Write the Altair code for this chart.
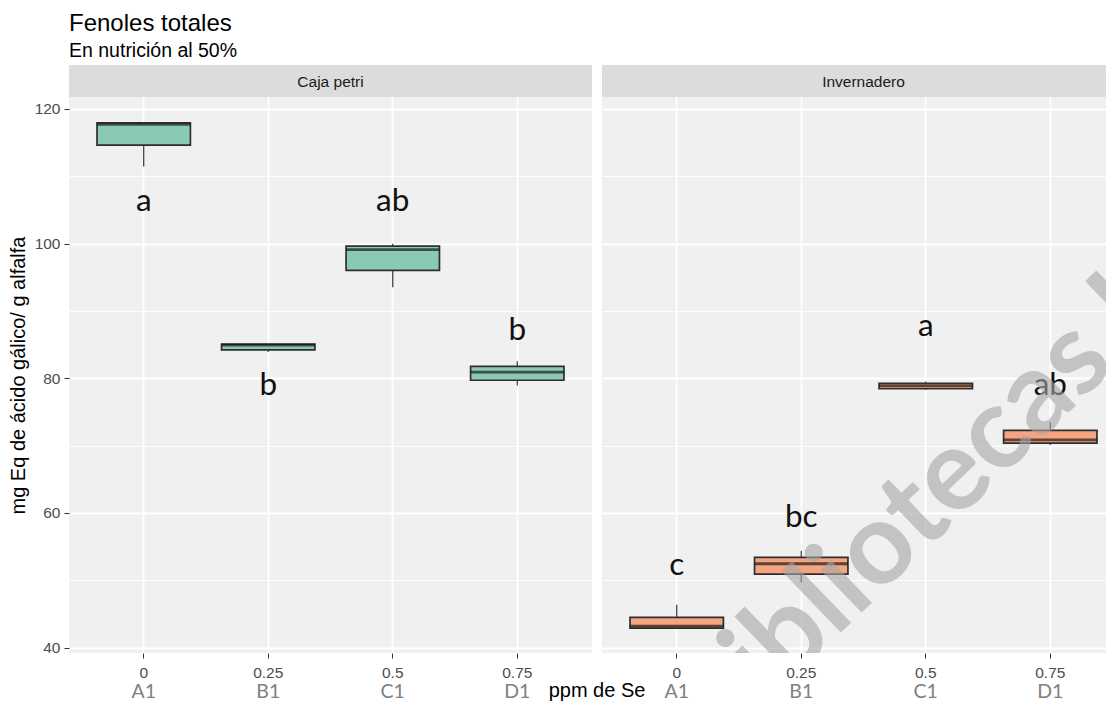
import altair as alt
import pandas as pd

# ---------------- data ----------------
dosis = ["0", "0.25", "0.5", "0.75"]
tratamientos = ["A1", "B1", "C1", "D1"]

petri_min = [111.45, 83.9, 93.5, 78.9]
petri_q1 = [114.6, 84.2, 96.0, 79.7]
petri_med = [117.7, 84.9, 99.1, 80.9]
petri_q3 = [117.9, 85.05, 99.6, 81.75]
petri_max = [117.9, 85.05, 99.95, 82.5]
petri_letras = ["a", "b", "ab", "b"]
petri_letras_y = [104.8, 77.5, 104.8, 85.7]

inv_min = [42.9, 49.7, 78.3, 70.1]
inv_q1 = [42.9, 50.9, 78.45, 70.35]
inv_med = [43.2, 52.45, 78.9, 70.85]
inv_q3 = [44.5, 53.4, 79.25, 72.25]
inv_max = [46.35, 54.4, 79.5, 73.5]
inv_letras = ["c", "bc", "a", "ab"]
inv_letras_y = [50.8, 57.85, 86.2, 77.5]

paneles = ["Caja petri", "Invernadero"]
marca_agua = "Bibliotecas U"

# ---------------- layout ----------------
H = 588
W1 = 523
W2 = 504
STEP = W1 / 4.2
STRIP = 32
Y_LO = 39.2
Y_HI = 39.2 + H / (134.7 / 20)
FONT = "Liberation Sans"
LETTER_FONT = "Lato"
BOTTOM_TXT = H + 45

major = "datum.value % 20 === 0"
grid_vals = list(range(40, 121, 10))


def y_axis(show):
    if show:
        return alt.Axis(
            values=grid_vals,
            labelExpr=f"{major} ? datum.label : ''",
            tickOpacity={"condition": {"test": major, "value": 1}, "value": 0},
            gridWidth={"condition": {"test": major, "value": 1.8}, "value": 0.9},
            gridColor="white",
            tickColor="#333333",
            tickSize=5,
            labelPadding=4,
            labelFont=FONT,
            labelFontSize=15.5,
            labelColor="#4d4d4d",
            domain=False,
            title="mg Eq de ácido gálico/ g alfalfa",
            titleFont=FONT,
            titleFontSize=20,
            titleFontWeight="normal",
            titleColor="black",
            titlePadding=6,
            titleY=(STRIP + H) / 2,
        )
    return alt.Axis(
        values=grid_vals,
        labels=False,
        ticks=False,
        domain=False,
        title=None,
        gridWidth={"condition": {"test": major, "value": 1.8}, "value": 0.9},
        gridColor="white",
    )


def panel(nombre, mins, q1s, meds, q3s, maxs, letras, letras_y, fill, width, first):
    df = pd.DataFrame({
        "dosis": dosis, "trat": tratamientos, "lo": mins, "q1": q1s,
        "med": meds, "q3": q3s, "hi": maxs, "letra": letras, "letra_y": letras_y,
    })
    extra = width / STEP - 3.75
    pad_outer = extra / 2
    align = (0.225 / extra) if extra > 0 else 0.5
    align = min(1, max(0, align))
    xs = alt.Scale(domain=dosis, paddingInner=0.25, paddingOuter=pad_outer, align=align)
    xax = alt.Axis(
        labelAngle=0, labelFont=FONT, labelFontSize=15.5, labelColor="#4d4d4d",
        tickColor="#333333", tickSize=5, labelPadding=7, domain=False,
        grid=True, gridColor="white", gridWidth=1.8, title=None, bandPosition=0.5,
    )
    X = alt.X("dosis:N", scale=xs, sort=dosis, axis=xax)
    ysc = alt.Scale(domain=[Y_LO, Y_HI], nice=False, zero=False)
    yax = y_axis(first)

    def Y(f):
        return alt.Y(f + ":Q", scale=ysc, axis=yax)

    base = alt.Chart(df)
    whisk = base.mark_rule(color="#333333", strokeWidth=1.2).encode(x=X, y=Y("lo"), y2="hi:Q")
    box = base.mark_bar(fill=fill, stroke="#2e2e2e", strokeWidth=1.7).encode(x=X, y=Y("q1"), y2="q3:Q")
    med = base.mark_tick(color="#1a1a1a", thickness=2.8, size=STEP * 0.75).encode(x=X, y=Y("med"))
    let = base.mark_text(font=LETTER_FONT, fontSize=31.5, color="#111111", baseline="alphabetic").encode(
        x=X, y=Y("letra_y"), text="letra:N")
    trat = base.mark_text(font=LETTER_FONT, fontSize=19.5, color="#808080", baseline="alphabetic").encode(
        x=X, y=alt.value(BOTTOM_TXT), text="trat:N")

    sdf = pd.DataFrame({"panel": [nombre]})
    strip = alt.Chart(sdf).mark_rect(fill="#dcdcdc").encode(
        x=alt.value(0), x2=alt.value(width), y=alt.value(0), y2=alt.value(STRIP))
    stext = alt.Chart(sdf).mark_text(font=FONT, fontSize=15.5, color="#1a1a1a", baseline="middle").encode(
        x=alt.value(W1 / 2), y=alt.value(STRIP / 2 + 1), text="panel:N")

    layers = [whisk, box, med, let, trat, strip, stext]
    if first:
        xt = alt.Chart(pd.DataFrame({"t": ["ppm de Se"]})).mark_text(
            font=FONT, fontSize=20, color="black", baseline="alphabetic", align="center").encode(
            x=alt.value(W1 + 5), y=alt.value(BOTTOM_TXT - 1), text="t:N")
        layers.append(xt)
    else:
        wm = alt.Chart(pd.DataFrame({"t": [marca_agua]})).mark_text(
            font=LETTER_FONT, fontSize=115, fontWeight="bold", color="#a6a6a6", opacity=0.6,
            angle=316, align="left", baseline="alphabetic", clip=True).encode(
            x=alt.value(112), y=alt.value(690), text="t:N")
        layers.append(wm)
    return alt.layer(*layers).properties(width=width, height=H)


p1 = panel(paneles[0], petri_min, petri_q1, petri_med, petri_q3, petri_max,
           petri_letras, petri_letras_y, "#8BCAB2", W1, True)
p2 = panel(paneles[1], inv_min, inv_q1, inv_med, inv_q3, inv_max,
           inv_letras, inv_letras_y, "#F4A480", W2, False)

chart = alt.hconcat(p1, p2, spacing=10).resolve_scale(
    x="independent", y="independent"
).properties(
    title=alt.TitleParams(
        text="Fenoles totales", subtitle="En nutrición al 50%", anchor="start", frame="group",
        font=FONT, fontSize=24, fontWeight="normal", color="black",
        subtitleFont=FONT, subtitleFontSize=19.5, subtitleColor="black", subtitlePadding=6,
        offset=5,
    ),
    padding={"left": 0, "top": 3, "right": 0, "bottom": 0},
    bounds="flush",
).configure_view(fill="#f0f0f0", stroke=None)

chart.save("out.html", embed_options={"renderer": "svg", "actions": False})
